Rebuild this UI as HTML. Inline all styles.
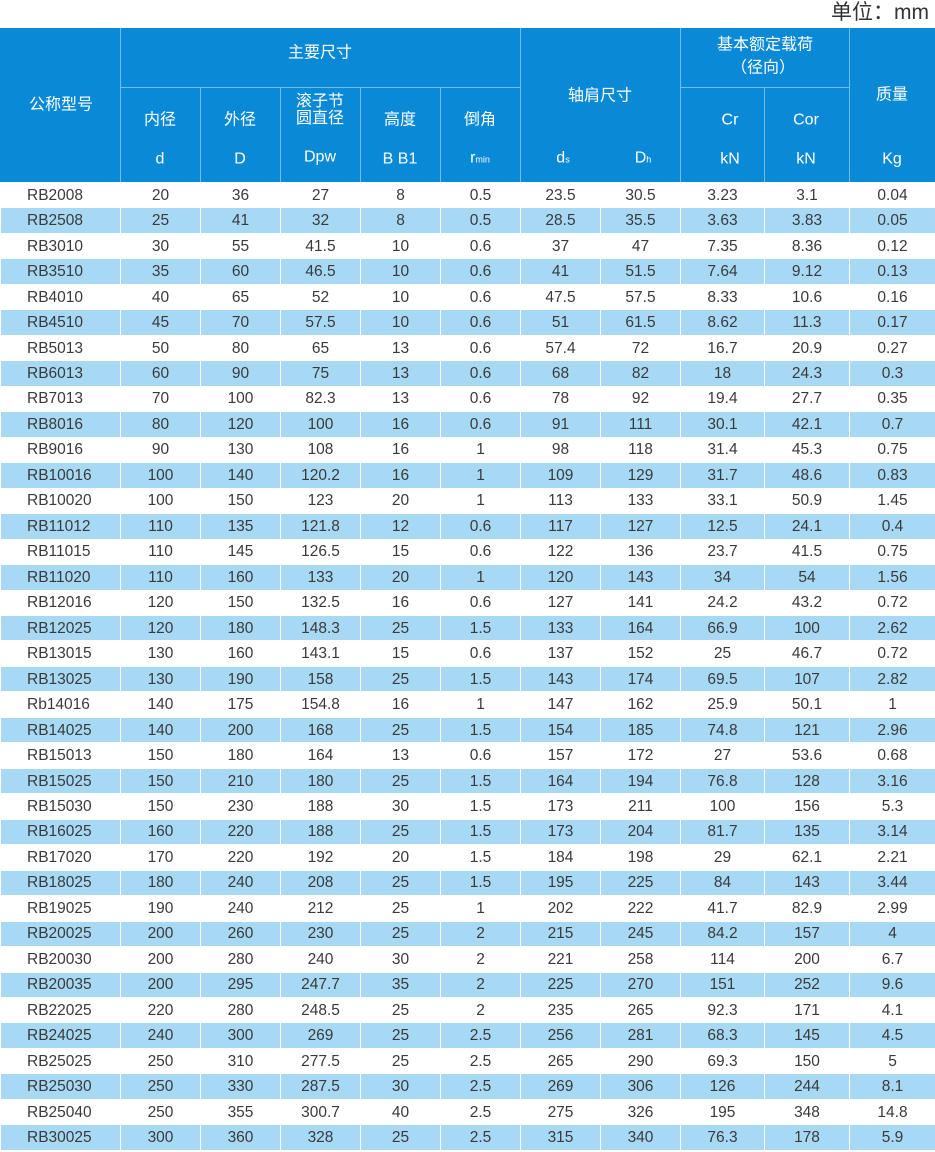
<!DOCTYPE html>
<html><head><meta charset="utf-8"><style>
body{margin:0;width:935px;height:1152px;position:relative;background:#fff;font-family:"Liberation Sans","Noto Sans CJK SC",sans-serif;overflow:hidden}
.unit{position:absolute;right:6px;top:0;font-size:21px;color:#333;line-height:26px}
.hd{position:absolute;left:0;top:28px;width:935px;height:154px;background:#0a8ad6}
.vl{position:absolute;width:1px;background:#6cbdec}
.hl{position:absolute;height:1px;background:#6cbdec}
.t{position:absolute;color:#fff;font-size:16px;text-align:center;transform:translate(-50%,-50%);white-space:nowrap;line-height:17px}
.s{font-size:9px}
table{position:absolute;left:0;top:182px;width:935px;border-collapse:collapse;table-layout:fixed}
td{height:24.47px;padding:0;border:1px solid #fff;text-align:center;font-size:15.5px;color:#3a3a3a;line-height:15px}
td:first-child{text-align:left;padding-left:26px}
tr:nth-child(even) td{background:#a7d9f5}
</style></head><body>
<div class="unit">单位：mm</div>
<div class="hd">
<div class="vl" style="left:120px;top:0;height:154px"></div>
<div class="vl" style="left:520px;top:0;height:154px"></div>
<div class="vl" style="left:680px;top:0;height:154px"></div>
<div class="vl" style="left:849px;top:0;height:154px"></div>
<div class="vl" style="left:200px;top:59px;height:95px"></div>
<div class="vl" style="left:280px;top:59px;height:95px"></div>
<div class="vl" style="left:360px;top:59px;height:95px"></div>
<div class="vl" style="left:440px;top:59px;height:95px"></div>
<div class="vl" style="left:764px;top:59px;height:95px"></div>
<div class="hl" style="left:120px;top:59px;width:400px"></div>
<div class="hl" style="left:680px;top:59px;width:169px"></div>
<div class="t" style="left:61px;top:77px">公称型号</div>
<div class="t" style="left:320px;top:25px">主要尺寸</div>
<div class="t" style="left:600px;top:68px">轴肩尺寸</div>
<div class="t" style="left:765px;top:17px">基本额定载荷</div>
<div class="t" style="left:763px;top:40px">（径向）</div>
<div class="t" style="left:892px;top:67px">质量</div>
<div class="t" style="left:160px;top:92px">内径</div>
<div class="t" style="left:240px;top:92px">外径</div>
<div class="t" style="left:320px;top:82px">滚子节<br>圆直径</div>
<div class="t" style="left:400px;top:92px">高度</div>
<div class="t" style="left:480px;top:92px">倒角</div>
<div class="t" style="left:730px;top:92px">Cr</div>
<div class="t" style="left:806px;top:92px">Cor</div>
<div class="t" style="left:160px;top:131px">d</div>
<div class="t" style="left:240px;top:131px">D</div>
<div class="t" style="left:320px;top:129px">Dpw</div>
<div class="t" style="left:400px;top:131px">B B1</div>
<div class="t" style="left:480px;top:131px">r<span class="s">min</span></div>
<div class="t" style="left:563px;top:131px">d<span class="s">s</span></div>
<div class="t" style="left:643px;top:131px">D<span class="s">h</span></div>
<div class="t" style="left:730px;top:131px">kN</div>
<div class="t" style="left:806px;top:131px">kN</div>
<div class="t" style="left:892px;top:131px">Kg</div>
</div>
<table>
<colgroup><col style="width:120px"><col style="width:80px"><col style="width:80px"><col style="width:80px"><col style="width:80px"><col style="width:80px"><col style="width:80px"><col style="width:80px"><col style="width:84px"><col style="width:85px"><col style="width:86px"></colgroup>
<tr><td>RB2008</td><td>20</td><td>36</td><td>27</td><td>8</td><td>0.5</td><td>23.5</td><td>30.5</td><td>3.23</td><td>3.1</td><td>0.04</td></tr>
<tr><td>RB2508</td><td>25</td><td>41</td><td>32</td><td>8</td><td>0.5</td><td>28.5</td><td>35.5</td><td>3.63</td><td>3.83</td><td>0.05</td></tr>
<tr><td>RB3010</td><td>30</td><td>55</td><td>41.5</td><td>10</td><td>0.6</td><td>37</td><td>47</td><td>7.35</td><td>8.36</td><td>0.12</td></tr>
<tr><td>RB3510</td><td>35</td><td>60</td><td>46.5</td><td>10</td><td>0.6</td><td>41</td><td>51.5</td><td>7.64</td><td>9.12</td><td>0.13</td></tr>
<tr><td>RB4010</td><td>40</td><td>65</td><td>52</td><td>10</td><td>0.6</td><td>47.5</td><td>57.5</td><td>8.33</td><td>10.6</td><td>0.16</td></tr>
<tr><td>RB4510</td><td>45</td><td>70</td><td>57.5</td><td>10</td><td>0.6</td><td>51</td><td>61.5</td><td>8.62</td><td>11.3</td><td>0.17</td></tr>
<tr><td>RB5013</td><td>50</td><td>80</td><td>65</td><td>13</td><td>0.6</td><td>57.4</td><td>72</td><td>16.7</td><td>20.9</td><td>0.27</td></tr>
<tr><td>RB6013</td><td>60</td><td>90</td><td>75</td><td>13</td><td>0.6</td><td>68</td><td>82</td><td>18</td><td>24.3</td><td>0.3</td></tr>
<tr><td>RB7013</td><td>70</td><td>100</td><td>82.3</td><td>13</td><td>0.6</td><td>78</td><td>92</td><td>19.4</td><td>27.7</td><td>0.35</td></tr>
<tr><td>RB8016</td><td>80</td><td>120</td><td>100</td><td>16</td><td>0.6</td><td>91</td><td>111</td><td>30.1</td><td>42.1</td><td>0.7</td></tr>
<tr><td>RB9016</td><td>90</td><td>130</td><td>108</td><td>16</td><td>1</td><td>98</td><td>118</td><td>31.4</td><td>45.3</td><td>0.75</td></tr>
<tr><td>RB10016</td><td>100</td><td>140</td><td>120.2</td><td>16</td><td>1</td><td>109</td><td>129</td><td>31.7</td><td>48.6</td><td>0.83</td></tr>
<tr><td>RB10020</td><td>100</td><td>150</td><td>123</td><td>20</td><td>1</td><td>113</td><td>133</td><td>33.1</td><td>50.9</td><td>1.45</td></tr>
<tr><td>RB11012</td><td>110</td><td>135</td><td>121.8</td><td>12</td><td>0.6</td><td>117</td><td>127</td><td>12.5</td><td>24.1</td><td>0.4</td></tr>
<tr><td>RB11015</td><td>110</td><td>145</td><td>126.5</td><td>15</td><td>0.6</td><td>122</td><td>136</td><td>23.7</td><td>41.5</td><td>0.75</td></tr>
<tr><td>RB11020</td><td>110</td><td>160</td><td>133</td><td>20</td><td>1</td><td>120</td><td>143</td><td>34</td><td>54</td><td>1.56</td></tr>
<tr><td>RB12016</td><td>120</td><td>150</td><td>132.5</td><td>16</td><td>0.6</td><td>127</td><td>141</td><td>24.2</td><td>43.2</td><td>0.72</td></tr>
<tr><td>RB12025</td><td>120</td><td>180</td><td>148.3</td><td>25</td><td>1.5</td><td>133</td><td>164</td><td>66.9</td><td>100</td><td>2.62</td></tr>
<tr><td>RB13015</td><td>130</td><td>160</td><td>143.1</td><td>15</td><td>0.6</td><td>137</td><td>152</td><td>25</td><td>46.7</td><td>0.72</td></tr>
<tr><td>RB13025</td><td>130</td><td>190</td><td>158</td><td>25</td><td>1.5</td><td>143</td><td>174</td><td>69.5</td><td>107</td><td>2.82</td></tr>
<tr><td>Rb14016</td><td>140</td><td>175</td><td>154.8</td><td>16</td><td>1</td><td>147</td><td>162</td><td>25.9</td><td>50.1</td><td>1</td></tr>
<tr><td>RB14025</td><td>140</td><td>200</td><td>168</td><td>25</td><td>1.5</td><td>154</td><td>185</td><td>74.8</td><td>121</td><td>2.96</td></tr>
<tr><td>RB15013</td><td>150</td><td>180</td><td>164</td><td>13</td><td>0.6</td><td>157</td><td>172</td><td>27</td><td>53.6</td><td>0.68</td></tr>
<tr><td>RB15025</td><td>150</td><td>210</td><td>180</td><td>25</td><td>1.5</td><td>164</td><td>194</td><td>76.8</td><td>128</td><td>3.16</td></tr>
<tr><td>RB15030</td><td>150</td><td>230</td><td>188</td><td>30</td><td>1.5</td><td>173</td><td>211</td><td>100</td><td>156</td><td>5.3</td></tr>
<tr><td>RB16025</td><td>160</td><td>220</td><td>188</td><td>25</td><td>1.5</td><td>173</td><td>204</td><td>81.7</td><td>135</td><td>3.14</td></tr>
<tr><td>RB17020</td><td>170</td><td>220</td><td>192</td><td>20</td><td>1.5</td><td>184</td><td>198</td><td>29</td><td>62.1</td><td>2.21</td></tr>
<tr><td>RB18025</td><td>180</td><td>240</td><td>208</td><td>25</td><td>1.5</td><td>195</td><td>225</td><td>84</td><td>143</td><td>3.44</td></tr>
<tr><td>RB19025</td><td>190</td><td>240</td><td>212</td><td>25</td><td>1</td><td>202</td><td>222</td><td>41.7</td><td>82.9</td><td>2.99</td></tr>
<tr><td>RB20025</td><td>200</td><td>260</td><td>230</td><td>25</td><td>2</td><td>215</td><td>245</td><td>84.2</td><td>157</td><td>4</td></tr>
<tr><td>RB20030</td><td>200</td><td>280</td><td>240</td><td>30</td><td>2</td><td>221</td><td>258</td><td>114</td><td>200</td><td>6.7</td></tr>
<tr><td>RB20035</td><td>200</td><td>295</td><td>247.7</td><td>35</td><td>2</td><td>225</td><td>270</td><td>151</td><td>252</td><td>9.6</td></tr>
<tr><td>RB22025</td><td>220</td><td>280</td><td>248.5</td><td>25</td><td>2</td><td>235</td><td>265</td><td>92.3</td><td>171</td><td>4.1</td></tr>
<tr><td>RB24025</td><td>240</td><td>300</td><td>269</td><td>25</td><td>2.5</td><td>256</td><td>281</td><td>68.3</td><td>145</td><td>4.5</td></tr>
<tr><td>RB25025</td><td>250</td><td>310</td><td>277.5</td><td>25</td><td>2.5</td><td>265</td><td>290</td><td>69.3</td><td>150</td><td>5</td></tr>
<tr><td>RB25030</td><td>250</td><td>330</td><td>287.5</td><td>30</td><td>2.5</td><td>269</td><td>306</td><td>126</td><td>244</td><td>8.1</td></tr>
<tr><td>RB25040</td><td>250</td><td>355</td><td>300.7</td><td>40</td><td>2.5</td><td>275</td><td>326</td><td>195</td><td>348</td><td>14.8</td></tr>
<tr><td>RB30025</td><td>300</td><td>360</td><td>328</td><td>25</td><td>2.5</td><td>315</td><td>340</td><td>76.3</td><td>178</td><td>5.9</td></tr>
</table>
</body></html>
